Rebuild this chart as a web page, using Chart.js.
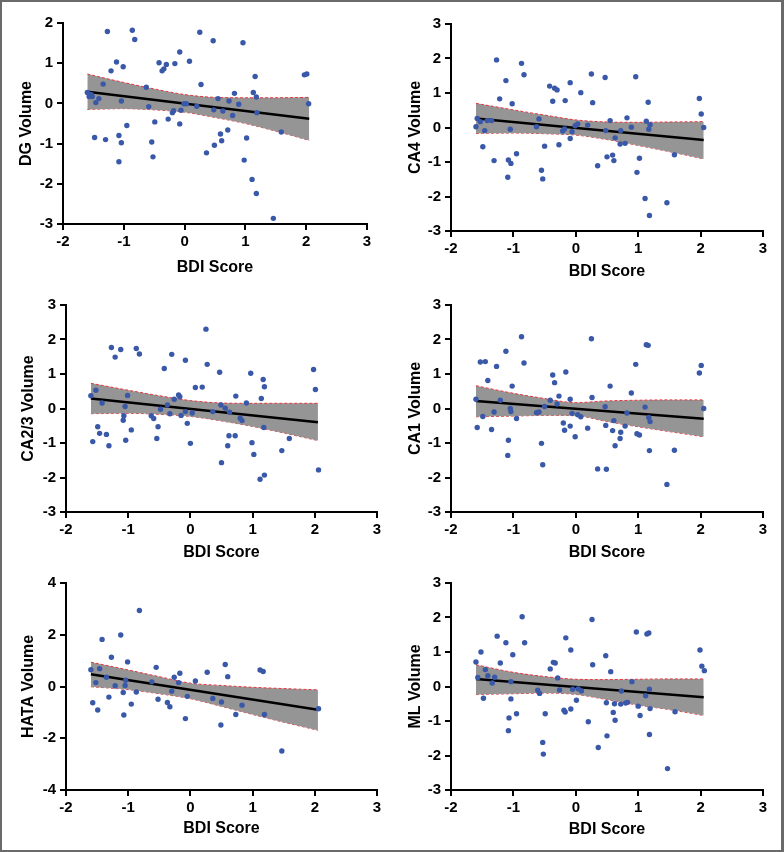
<!DOCTYPE html>
<html>
<head>
<meta charset="utf-8">
<script src="https://cdn.jsdelivr.net/npm/chart.js@4.4.1/dist/chart.umd.min.js"></script>
<style>
  html, body { margin: 0; padding: 0; background: #fff; }
  #page { position: relative; width: 784px; height: 852px; overflow: hidden; }
  #page canvas { position: absolute; }
  #frame { position: absolute; left: 0; top: 0; width: 784px; height: 852px; box-sizing: border-box;
           border: 2px solid #6a6a6a; border-right-width: 3px; pointer-events: none; }
</style>
</head>
<body>
<div id="page"><div id="frame"></div></div>
<script>
// shared x positions for the fit line and the confidence band
const lineX = [-1.6, 2.05];
const bandX = [-1.6, -1.0, -0.5, 0, 0.5, 1.0, 1.5, 2.05];

// DG
const dgPoints = [[-1.60,0.27],[-1.57,0.17],[-1.54,0.22],[-1.52,0.17],[-1.46,0.02],[-1.41,0.12],[-1.34,0.48],[-1.48,-0.85],[-1.30,-0.90],[-1.27,1.79],[-1.21,0.81],[-1.12,1.03],[-1.01,0.91],[-1.04,0.06],[-1.08,-0.80],[-1.04,-0.98],[-1.08,-1.45],[-0.95,-0.55],[-0.86,1.82],[-0.82,1.59],[-0.63,0.40],[-0.59,-0.08],[-0.54,-0.96],[-0.52,-1.33],[-0.49,-0.46],[-0.42,1.01],[-0.37,0.81],[-0.34,0.86],[-0.30,0.97],[-0.27,-0.39],[-0.20,-0.23],[-0.18,-0.18],[-0.16,0.99],[-0.08,1.28],[-0.08,-0.51],[-0.06,-0.17],[-0.01,-0.01],[0.03,-0.01],[0.08,1.05],[0.20,-0.07],[0.25,1.77],[0.27,0.47],[0.36,-1.23],[0.47,1.56],[0.48,-0.16],[0.49,-1.04],[0.55,0.12],[0.59,-0.76],[0.61,-0.93],[0.63,-0.19],[0.71,-0.66],[0.73,0.06],[0.79,-0.30],[0.82,0.25],[0.89,-0.02],[0.96,1.51],[0.98,-1.41],[1.02,-0.86],[1.11,-1.89],[1.13,0.27],[1.16,0.67],[1.18,0.16],[1.18,-2.24],[1.19,-0.23],[1.46,-2.86],[1.59,-0.71],[1.97,0.71],[2.01,0.73],[2.04,-0.01]];
const dgLine = [0.29, -0.38];
const dgUpper = [0.73, 0.52, 0.36, 0.22, 0.15, 0.14, 0.14, 0.15];
const dgLower = [-0.15, -0.13, -0.16, -0.22, -0.35, -0.50, -0.69, -0.92];

// CA4
const ca4Points = [[-1.60,0.02],[-1.58,0.26],[-1.53,0.17],[-1.49,-0.56],[-1.46,-0.09],[-1.42,0.20],[-1.35,0.20],[-1.31,-0.96],[-1.27,1.96],[-1.22,0.83],[-1.12,1.36],[-1.09,-1.44],[-1.08,-0.94],[-1.05,-0.05],[-1.04,-1.04],[-1.02,0.69],[-0.95,-0.76],[-0.87,1.86],[-0.83,1.53],[-0.63,0.02],[-0.59,0.25],[-0.55,-1.24],[-0.53,-1.49],[-0.50,-0.54],[-0.42,1.20],[-0.37,0.76],[-0.34,1.14],[-0.30,1.09],[-0.27,-0.50],[-0.21,-0.10],[-0.18,-0.04],[-0.17,0.78],[-0.09,-0.32],[-0.09,1.30],[-0.06,-0.12],[-0.01,0.05],[0.03,0.10],[0.08,1.01],[0.19,0.07],[0.25,1.55],[0.27,0.72],[0.35,-1.11],[0.47,1.45],[0.48,-0.09],[0.50,-0.85],[0.55,0.20],[0.59,-0.80],[0.61,-0.96],[0.63,-0.30],[0.71,-0.48],[0.72,-0.09],[0.79,-0.46],[0.82,0.28],[0.89,0.01],[0.96,1.47],[0.98,-1.30],[1.02,-0.89],[1.11,-2.06],[1.13,0.18],[1.16,0.73],[1.17,-0.05],[1.18,-2.55],[1.19,0.08],[1.46,-2.18],[1.58,-0.79],[1.98,0.84],[2.01,0.39],[2.05,0.00]];
const ca4Line = [0.26, -0.36];
const ca4Upper = [0.70, 0.51, 0.36, 0.22, 0.16, 0.15, 0.16, 0.17];
const ca4Lower = [-0.17, -0.16, -0.18, -0.22, -0.35, -0.52, -0.70, -0.91];

// CA2/3
const ca23Points = [[-1.60,0.37],[-1.52,0.53],[-1.57,-0.96],[-1.49,-0.53],[-1.46,-0.72],[-1.42,0.16],[-1.35,-0.75],[-1.31,-1.08],[-1.27,1.77],[-1.21,1.49],[-1.12,1.71],[-1.08,-0.34],[-1.07,-0.21],[-1.05,0.06],[-1.04,-0.92],[-1.01,0.38],[-0.95,-0.62],[-0.87,1.74],[-0.82,1.58],[-0.63,-0.21],[-0.59,-0.29],[-0.54,-0.87],[-0.52,-0.53],[-0.48,-0.02],[-0.42,1.16],[-0.37,0.10],[-0.33,-0.15],[-0.30,1.57],[-0.26,0.27],[-0.19,0.39],[-0.17,0.34],[-0.15,-0.20],[-0.08,1.40],[-0.08,-0.09],[-0.05,-0.43],[0.00,-1.01],[0.03,-0.13],[0.08,0.61],[0.19,0.62],[0.25,2.30],[0.27,1.28],[0.36,-0.09],[0.47,1.05],[0.49,0.10],[0.50,-1.57],[0.56,0.01],[0.60,-1.08],[0.62,-0.79],[0.63,-0.11],[0.73,0.36],[0.72,-0.79],[0.80,-0.28],[0.83,-0.35],[0.90,0.16],[0.97,1.02],[0.99,-0.99],[1.02,-1.33],[1.12,-2.05],[1.14,0.29],[1.17,0.84],[1.18,-0.55],[1.19,-1.93],[1.19,0.63],[1.47,-1.22],[1.59,-0.87],[1.98,1.13],[2.01,0.55],[2.06,-1.78]];
const ca23Line = [0.29, -0.40];
const ca23Upper = [0.73, 0.53, 0.37, 0.23, 0.16, 0.15, 0.15, 0.15];
const ca23Lower = [-0.15, -0.14, -0.17, -0.23, -0.36, -0.52, -0.71, -0.93];

// CA1
const ca1Points = [[-1.60,0.27],[-1.58,-0.55],[-1.53,1.35],[-1.49,-0.23],[-1.45,1.36],[-1.41,0.81],[-1.35,-0.61],[-1.31,-0.10],[-1.27,1.22],[-1.21,0.24],[-1.12,1.66],[-1.08,-0.92],[-1.09,-1.36],[-1.05,0.00],[-1.04,-0.09],[-1.02,0.65],[-0.95,-0.29],[-0.87,2.08],[-0.83,1.32],[-0.63,-0.12],[-0.59,-0.10],[-0.55,-1.01],[-0.53,-1.63],[-0.50,0.06],[-0.41,0.24],[-0.37,0.97],[-0.34,0.75],[-0.30,0.13],[-0.27,0.36],[-0.20,-0.42],[-0.18,-0.63],[-0.16,1.06],[-0.09,0.27],[-0.09,-0.51],[-0.06,-0.14],[-0.01,-0.82],[0.03,-0.18],[0.08,-0.24],[0.19,-0.57],[0.25,2.02],[0.26,0.32],[0.35,-1.75],[0.47,0.05],[0.48,-0.49],[0.49,-1.76],[0.55,0.65],[0.59,-0.64],[0.61,-0.35],[0.63,-1.08],[0.71,-0.87],[0.72,-0.69],[0.79,-0.51],[0.82,-0.13],[0.89,0.45],[0.96,1.28],[0.98,-0.73],[1.02,-0.77],[1.11,0.04],[1.13,1.85],[1.16,1.83],[1.17,-0.26],[1.18,-1.22],[1.19,-0.38],[1.46,-2.20],[1.58,-1.21],[1.98,1.03],[2.01,1.25],[2.05,0.00]];
const ca1Line = [0.22, -0.30];
const ca1Upper = [0.66, 0.44, 0.29, 0.17, 0.22, 0.24, 0.25, 0.25];
const ca1Lower = [-0.24, -0.22, -0.20, -0.21, -0.38, -0.53, -0.67, -0.82];

// HATA
const hataPoints = [[-1.60,0.65],[-1.57,-0.63],[-1.52,0.15],[-1.49,-0.91],[-1.46,0.69],[-1.42,1.82],[-1.35,0.36],[-1.31,-0.41],[-1.27,1.13],[-1.21,0.03],[-1.12,1.99],[-1.08,-0.23],[-1.07,-1.10],[-1.05,0.04],[-1.04,0.24],[-1.01,0.95],[-0.95,-0.68],[-0.87,-0.21],[-0.82,2.94],[-0.62,0.18],[-0.55,0.74],[-0.52,-0.49],[-0.37,-0.62],[-0.33,-0.78],[-0.30,-0.18],[-0.26,0.36],[-0.19,0.15],[-0.17,0.51],[-0.08,-1.24],[-0.05,-0.38],[0.08,0.21],[0.27,0.55],[0.36,-0.46],[0.49,-1.49],[0.50,-0.60],[0.56,0.85],[0.60,0.38],[0.73,-1.08],[0.83,-0.72],[1.12,0.64],[1.17,0.58],[1.19,-1.08],[1.47,-2.49],[2.06,-0.86]];
const hataLine = [0.47, -0.90];
const hataUpper = [0.94, 0.64, 0.38, 0.13, 0.04, -0.03, -0.08, -0.13];
const hataLower = [-0.01, -0.12, -0.28, -0.47, -0.77, -1.08, -1.38, -1.69];

// ML
const mlPoints = [[-1.60,0.71],[-1.57,0.26],[-1.52,1.00],[-1.48,-0.34],[-1.45,0.49],[-1.41,0.31],[-1.34,0.10],[-1.30,0.27],[-1.26,1.46],[-1.21,0.68],[-1.12,1.27],[-1.08,-1.28],[-1.07,-0.91],[-1.04,0.14],[-1.04,-0.36],[-1.01,0.92],[-0.95,-0.79],[-0.86,2.02],[-0.82,1.27],[-0.61,-0.11],[-0.58,-0.20],[-0.53,-1.62],[-0.52,-1.96],[-0.49,-0.79],[-0.41,0.51],[-0.36,0.70],[-0.33,0.68],[-0.29,0.25],[-0.26,-0.10],[-0.19,-0.69],[-0.17,-0.74],[-0.16,1.41],[-0.08,-0.65],[-0.08,1.06],[-0.05,-0.08],[0.01,-0.40],[0.04,-0.07],[0.09,-0.13],[0.20,-1.02],[0.26,1.94],[0.27,0.63],[0.36,-1.77],[0.48,0.89],[0.49,-0.47],[0.50,-1.43],[0.56,0.43],[0.60,-0.75],[0.62,-0.50],[0.63,-0.98],[0.72,-0.51],[0.73,-0.13],[0.80,-0.48],[0.83,-0.46],[0.90,0.14],[0.97,1.58],[1.00,-0.57],[1.03,-0.84],[1.12,-0.27],[1.14,1.52],[1.17,1.55],[1.18,-0.08],[1.18,-1.39],[1.19,-0.64],[1.47,-2.38],[1.59,-0.73],[1.99,1.06],[2.02,0.59],[2.06,0.46]];
const mlLine = [0.22, -0.31];
const mlUpper = [0.63, 0.41, 0.29, 0.21, 0.20, 0.21, 0.22, 0.22];
const mlLower = [-0.23, -0.21, -0.19, -0.23, -0.38, -0.54, -0.67, -0.84];

const xTicks = { min: -2, max: 3, step: 1 };

const BLUE = '#3a58a8';
const RED = '#e8343c';
const GRAY = '#959595';
const FONT = "'Liberation Sans', Arial, Helvetica, sans-serif";

// cell = canvas box, area = plot box (page pixels)
const panels = [
  { title: 'DG Volume',    pts: dgPoints,   line: dgLine,   upper: dgUpper,   lower: dgLower,   yMin: -3, yMax: 2, yStep: 1, cell: [0, 0, 392, 285],     area: [63, 23, 367, 224],  yTitleX: 27, xTitleY: 268 },
  { title: 'CA4 Volume',   pts: ca4Points,  line: ca4Line,  upper: ca4Upper,  lower: ca4Lower,  yMin: -3, yMax: 3, yStep: 1, cell: [392, 0, 392, 285],   area: [451, 24, 763, 231], yTitleX: 416, xTitleY: 272 },
  { title: 'CA2/3 Volume', pts: ca23Points, line: ca23Line, upper: ca23Upper, lower: ca23Lower, yMin: -3, yMax: 3, yStep: 1, cell: [0, 285, 392, 285],   area: [66, 305, 377, 512], yTitleX: 29, xTitleY: 553 },
  { title: 'CA1 Volume',   pts: ca1Points,  line: ca1Line,  upper: ca1Upper,  lower: ca1Lower,  yMin: -3, yMax: 3, yStep: 1, cell: [392, 285, 392, 285], area: [451, 305, 763, 512], yTitleX: 416, xTitleY: 553 },
  { title: 'HATA Volume',  pts: hataPoints, line: hataLine, upper: hataUpper, lower: hataLower, yMin: -4, yMax: 4, yStep: 2, cell: [0, 570, 392, 282],   area: [66, 582, 377, 790], yTitleX: 29, xTitleY: 829 },
  { title: 'ML Volume',    pts: mlPoints,   line: mlLine,   upper: mlUpper,   lower: mlLower,   yMin: -3, yMax: 3, yStep: 1, cell: [392, 570, 392, 282], area: [451, 582, 763, 790], yTitleX: 416, xTitleY: 830 }
];

const page = document.getElementById('page');
const frame = document.getElementById('frame');

panels.forEach(p => {
  const [cx, cy, cw, ch] = p.cell;
  const [L, T, R, B] = p.area;
  const cv = document.createElement('canvas');
  cv.width = cw; cv.height = ch;
  cv.style.left = cx + 'px'; cv.style.top = cy + 'px';
  cv.style.width = cw + 'px'; cv.style.height = ch + 'px';
  page.insertBefore(cv, frame);

  const tickFont = { family: FONT, size: 15, weight: 'bold' };
  const titleFont = { family: FONT, size: 16, weight: 'bold', lineHeight: 1.2 };
  const half = 16 * 1.2 / 2;

  const axisCommon = {
    type: 'linear',
    grid: { drawOnChartArea: false, drawTicks: true, tickLength: 6, color: '#000', lineWidth: 2 },
    border: { display: true, color: '#000', width: 2 },
  };

  new Chart(cv.getContext('2d'), {
    type: 'scatter',
    data: {
      datasets: [
        { data: p.pts.map(([x, y]) => ({ x, y })), pointRadius: 2.7, pointBackgroundColor: BLUE, pointBorderWidth: 0 },
        { data: lineX.map((x, i) => ({ x, y: p.line[i] })), showLine: true, borderColor: '#000', borderWidth: 2.5, pointRadius: 0 },
        { data: bandX.map((x, i) => ({ x, y: p.upper[i] })), showLine: true, borderColor: RED, borderWidth: 1, borderDash: [3, 2],
          pointRadius: 0, fill: '+1', backgroundColor: GRAY, cubicInterpolationMode: 'monotone' },
        { data: bandX.map((x, i) => ({ x, y: p.lower[i] })), showLine: true, borderColor: RED, borderWidth: 1, borderDash: [3, 2],
          pointRadius: 0, cubicInterpolationMode: 'monotone' }
      ]
    },
    options: {
      responsive: false,
      animation: false,
      events: [],
      layout: { padding: { left: 0, top: T - cy, right: cx + cw - R, bottom: 0 } },
      plugins: { legend: { display: false }, tooltip: { enabled: false } },
      scales: {
        x: {
          ...axisCommon,
          min: xTicks.min, max: xTicks.max,
          ticks: { stepSize: xTicks.step, font: tickFont, color: '#000', padding: 3 },
          title: { display: true, text: 'BDI Score', font: titleFont, color: '#000',
                   padding: { top: 0, bottom: cy + ch - p.xTitleY - half } },
          afterFit: s => { s.height = cy + ch - B; }
        },
        y: {
          ...axisCommon,
          min: p.yMin, max: p.yMax,
          ticks: { stepSize: p.yStep, font: tickFont, color: '#000', padding: 4 },
          title: { display: true, text: p.title, font: titleFont, color: '#000',
                   padding: { top: p.yTitleX - cx - half, bottom: 0 } },
          afterFit: s => { s.width = L - cx; }
        }
      }
    }
  });
});
</script>
</body>
</html>
